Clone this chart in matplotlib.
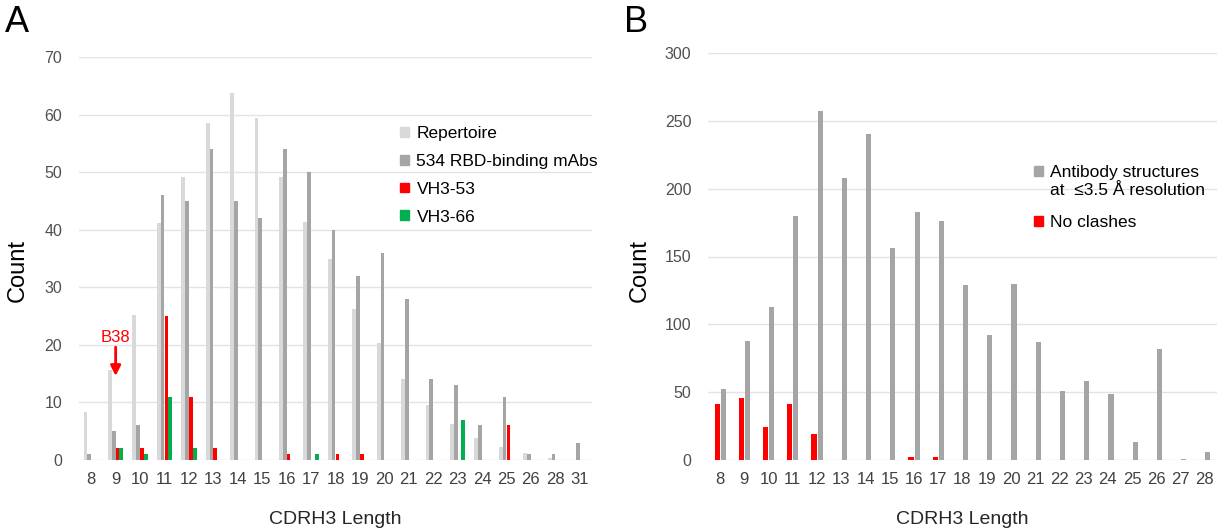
import numpy as np
import matplotlib
matplotlib.use("Agg")
import matplotlib.pyplot as plt
from matplotlib.patches import Patch

plt.rcParams['font.family'] = ['Liberation Sans', 'DejaVu Sans']

# ---------------- Data ----------------
lengths_a = ['8', '9', '10', '11', '12', '13', '14', '15', '16', '17', '18',
             '19', '20', '21', '22', '23', '24', '25', '26', '28', '31']
repertoire = [8.4, 15.7, 25.1, 41.2, 49.2, 58.6, 63.7, 59.4, 49.2, 41.4, 34.9,
              26.2, 20.3, 14.0, 9.6, 6.3, 3.9, 2.3, 1.2, 0.3, 0.0]
mabs_534 = [1, 5, 6, 46, 45, 54, 45, 42, 54, 50, 40,
            32, 36, 28, 14, 13, 6, 11, 1, 1, 3]
vh3_53 = [0, 2, 2, 25, 11, 2, 0, 0, 1, 0, 1,
          1, 0, 0, 0, 0, 0, 6, 0, 0, 0]
vh3_66 = [0, 2, 1, 11, 2, 0, 0, 0, 0, 1, 0,
          0, 0, 0, 0, 7, 0, 0, 0, 0, 0]

lengths_b = ['8', '9', '10', '11', '12', '13', '14', '15', '16', '17', '18',
             '19', '20', '21', '22', '23', '24', '25', '26', '27', '28']
structures = [52, 88, 113, 180, 257, 208, 240, 156, 183, 176, 129,
              92, 130, 87, 51, 58, 49, 13, 82, 1, 6]
no_clashes = [41, 46, 24, 41, 19, 0, 0, 0, 2, 2, 0,
              0, 0, 0, 0, 0, 0, 0, 0, 0, 0]

# ---------------- Style ----------------
C_REP = '#d9d9d9'
C_MAB = '#a5a5a5'
C_RED = '#ff0000'
C_GRN = '#00b050'
C_GRID = '#e3e3e3'
C_TICK = '#404040'

W, H = 1225, 529
fig = plt.figure(figsize=(W / 100, H / 100), dpi=100)


def px_axes(l, t, r, b):
    return fig.add_axes([l / W, 1 - b / H, (r - l) / W, (b - t) / H])


def style_axes(ax):
    for s in ax.spines.values():
        s.set_visible(False)
    ax.tick_params(length=0, colors=C_TICK)
    ax.tick_params(axis='x', pad=9, labelsize=12)
    ax.tick_params(axis='y', pad=12, labelsize=11.5, colors='#505050')
    ax.yaxis.grid(True, color=C_GRID, linewidth=1)
    ax.set_axisbelow(True)


LEG = dict(frameon=False, fontsize=12.5, handlelength=0.5, handleheight=0.5,
           handletextpad=0.45, borderpad=0, borderaxespad=0, loc='upper left')

# ---------------- Panel A ----------------
axA = px_axes(79, 57, 592, 460)
style_axes(axA)
xa = np.arange(len(lengths_a))
wa = 0.155
axA.bar(xa - 1.5 * wa, repertoire, wa, color=C_REP, label='Repertoire')
axA.bar(xa - 0.5 * wa, mabs_534, wa, color=C_MAB, label='534 RBD-binding mAbs')
axA.bar(xa + 0.5 * wa, vh3_53, wa, color=C_RED, label='VH3-53')
axA.bar(xa + 1.5 * wa, vh3_66, wa, color=C_GRN, label='VH3-66')
axA.set_xlim(-0.5, len(lengths_a) - 0.5)
axA.set_ylim(0, 70)
axA.set_yticks(np.arange(0, 71, 10))
axA.set_xticks(xa)
axA.set_xticklabels(lengths_a)
axA.set_xlabel('CDRH3 Length', fontsize=14, color='#262626', labelpad=17)

hA = [Patch(color=C_REP), Patch(color=C_MAB), Patch(color=C_RED), Patch(color=C_GRN)]
axA.legend(hA, ['Repertoire', '534 RBD-binding mAbs', 'VH3-53', 'VH3-66'],
           bbox_to_anchor=(400 / W, 1 - 126 / H), bbox_transform=fig.transFigure,
           labelspacing=0.74, **LEG)

# B38 annotation
axA.annotate('', xy=(1, 14.6), xytext=(1, 19.6),
             arrowprops=dict(arrowstyle='-|>,head_width=0.3,head_length=0.6',
                             color=C_RED, lw=2, shrinkA=0, shrinkB=0))
axA.text(1, 21.2, 'B38', color=C_RED, fontsize=12, ha='center', va='center')

# ---------------- Panel B ----------------
axB = px_axes(708, 53, 1217, 460)
style_axes(axB)
xb = np.arange(len(lengths_b))
wb = 0.21
axB.bar(xb - 0.125, no_clashes, wb, color=C_RED)
axB.bar(xb + 0.125, structures, wb, color=C_MAB)
axB.set_xlim(-0.5, len(lengths_b) - 0.5)
axB.set_ylim(0, 300)
axB.set_yticks(np.arange(0, 301, 50))
axB.set_xticks(xb)
axB.set_xticklabels(lengths_b)
axB.set_xlabel('CDRH3 Length', fontsize=14, color='#262626', labelpad=17)

legB1 = axB.legend([Patch(color=C_MAB), Patch(color='none')],
                   ['Antibody structures', 'at  \u22643.5 \u00c5 resolution'],
                   bbox_to_anchor=(1034 / W, 1 - 165 / H), bbox_transform=fig.transFigure,
                   labelspacing=0.18, **LEG)
axB.add_artist(legB1)
axB.legend([Patch(color=C_RED)], ['No clashes'],
           bbox_to_anchor=(1034 / W, 1 - 215 / H), bbox_transform=fig.transFigure,
           **LEG)

# ---------------- Figure-level text ----------------
fig.text(18 / W, 1 - 270 / H, 'Count', rotation=90, fontsize=17,
         ha='center', va='center', color='black')
fig.text(640 / W, 1 - 270 / H, 'Count', rotation=90, fontsize=17,
         ha='center', va='center', color='black')
fig.text(5 / W, 1 - 23 / H, 'A', fontsize=26, ha='left', va='center')
fig.text(624 / W, 1 - 23 / H, 'B', fontsize=26, ha='left', va='center')

fig.savefig('out.png', dpi=100)
